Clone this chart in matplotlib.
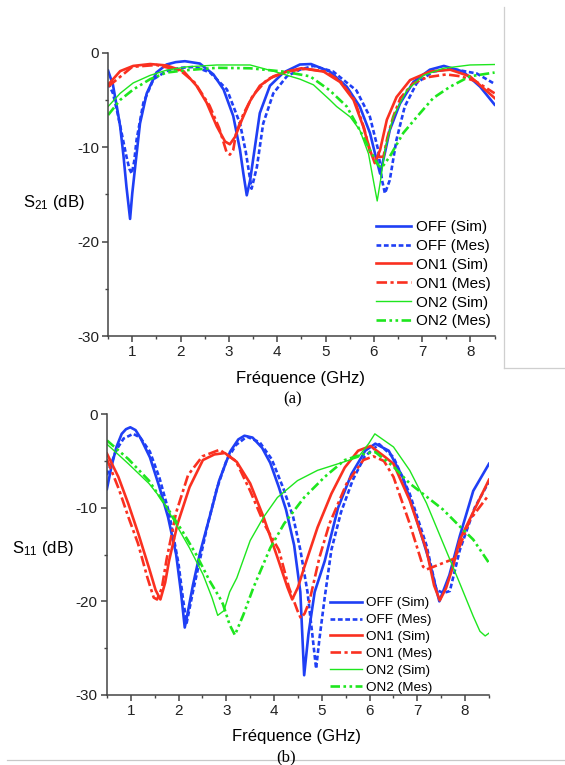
import matplotlib.pyplot as plt
from matplotlib.lines import Line2D
from matplotlib.ticker import MultipleLocator

BLUE = "#1f3ff5"
RED = "#fa3020"
GREEN = "#1ee61e"
AXIS_GREY = "#444444"

plt.rcParams.update({
    "font.family": ["Liberation Sans", "DejaVu Sans"],
    "mathtext.fontset": "custom",
    "mathtext.rm": "Liberation Sans",
    "mathtext.it": "Liberation Sans",
    "axes.unicode_minus": False,
})

# --- panel (a): S21 (dB) vs frequency (GHz) ---
f21_off_sim = [0.5, 0.6, 0.68, 0.75, 0.82, 0.88, 0.955, 1.0, 1.06, 1.16, 1.3, 1.5, 1.71, 1.9,
               2.09, 2.4, 2.68, 2.89, 3.09, 3.23, 3.3, 3.37, 3.44, 3.51, 3.64, 3.85, 4.13, 4.47,
               4.7, 5.09, 5.44, 5.71, 5.92, 6.04, 6.13, 6.23, 6.33, 6.54, 6.82, 7.16, 7.45, 7.85,
               8.2, 8.5]
s21_off_sim = [-1.9, -3.4, -5.7, -7.8, -11.0, -14.2, -17.6, -14.9, -12.1, -7.5, -4.3, -2.1, -1.25,
               -1.0, -0.9, -1.15, -2.3, -3.9, -6.7, -10.3, -12.8, -15.1, -13.5, -11.0, -6.4, -3.5,
               -2.1, -1.25, -1.2, -2.0, -3.6, -5.7, -8.5, -11.0, -12.8, -10.6, -8.2, -5.4, -3.1,
               -1.8, -1.4, -2.0, -3.6, -5.5]

f21_off_mes = [0.5, 0.6, 0.7, 0.8, 0.88, 0.94, 0.99, 1.04, 1.09, 1.23, 1.44, 1.71, 2.0, 2.3, 2.61,
               2.96, 3.23, 3.35, 3.47, 3.58, 3.71, 3.92, 4.2, 4.47, 4.75, 5.16, 5.64, 5.92, 6.09,
               6.17, 6.23, 6.33, 6.47, 6.64, 6.89, 7.23, 7.6, 8.13, 8.5]
s21_off_mes = [-3.2, -4.3, -6.5, -9.0, -11.0, -12.3, -12.8, -11.5, -9.2, -5.3, -2.8, -1.95, -1.6,
               -1.5, -2.1, -3.9, -7.5, -10.5, -14.4, -12.1, -7.5, -4.3, -2.5, -1.8, -1.4, -2.0,
               -4.0, -6.8, -10.3, -13.5, -14.9, -13.5, -9.2, -5.7, -3.2, -2.0, -1.7, -2.2, -3.3]

f21_on1_sim = [0.5, 0.75, 1.02, 1.37, 1.71, 2.06, 2.33, 2.54, 2.75, 2.92, 3.02, 3.13, 3.27, 3.44,
               3.64, 3.92, 4.2, 4.5, 4.96, 5.3, 5.58, 5.78, 5.92, 6.02, 6.13, 6.27, 6.47, 6.75,
               7.16, 7.58, 7.99, 8.5]
s21_on1_sim = [-3.4, -1.95, -1.4, -1.2, -1.35, -1.95, -3.5, -5.3, -7.8, -9.4, -9.7, -8.9, -7.1,
               -5.1, -3.5, -2.5, -2.0, -1.65, -2.0, -3.1, -5.0, -7.8, -10.3, -11.7, -10.3, -7.1,
               -4.7, -2.9, -2.0, -1.8, -2.5, -4.8]

f21_on1_mes = [0.5, 1.0, 1.5, 2.0, 2.3, 2.6, 2.8, 2.95, 3.02, 3.09, 3.15, 3.3, 3.5, 3.8, 4.2, 4.6,
               5.0, 5.3, 5.6, 5.8, 5.92, 6.0, 6.2, 6.28, 6.4, 6.55, 6.8, 7.1, 7.5, 7.8, 8.1, 8.5]
s21_on1_mes = [-3.6, -1.5, -1.3, -1.9, -3.2, -5.6, -8.0, -10.5, -10.8, -10.3, -8.5, -6.5, -4.5,
               -2.8, -2.0, -1.7, -2.0, -3.0, -5.0, -8.0, -10.5, -11.1, -11.0, -9.0, -6.8, -4.8,
               -3.3, -2.6, -2.3, -2.5, -3.0, -4.3]

f21_on2_sim = [0.5, 0.75, 1.02, 1.37, 1.71, 2.13, 2.75, 3.44, 3.95, 4.47, 4.75, 5.09, 5.23, 5.51,
               5.71, 5.89, 5.99, 6.07, 6.14, 6.23, 6.4, 6.68, 7.03, 7.44, 7.99, 8.5]
s21_on2_sim = [-5.7, -4.3, -3.2, -2.4, -1.85, -1.5, -1.3, -1.3, -2.0, -2.8, -3.4, -5.0, -5.7,
               -6.8, -8.2, -10.7, -13.5, -15.7, -13.5, -10.3, -6.8, -4.0, -2.4, -1.65, -1.3, -1.25]

f21_on2_mes = [0.5, 0.75, 1.02, 1.37, 1.71, 2.13, 2.75, 3.44, 4.13, 4.68, 5.09, 5.44, 5.71, 5.92,
               6.09, 6.16, 6.33, 6.61, 6.89, 7.23, 7.58, 7.99, 8.5]
s21_on2_mes = [-6.6, -5.0, -3.9, -2.8, -2.1, -1.85, -1.6, -1.65, -2.0, -2.5, -4.0, -5.7, -8.2,
               -10.3, -11.9, -12.2, -11.0, -8.5, -6.8, -4.8, -3.6, -2.5, -2.1]

# --- panel (b): S11 (dB) vs frequency (GHz) ---
f11_off_sim = [0.5, 0.6, 0.7, 0.81, 0.9, 0.99, 1.1, 1.2, 1.4, 1.6, 1.78, 1.95, 2.05, 2.13, 2.2,
               2.3, 2.45, 2.65, 2.85, 3.08, 3.25, 3.38, 3.55, 3.75, 3.92, 4.1, 4.25, 4.42, 4.55,
               4.63, 4.72, 4.85, 5.06, 5.34, 5.62, 5.91, 6.12, 6.4, 6.69, 6.97, 7.25, 7.46, 7.67,
               7.89, 8.17, 8.5]
s11_off_sim = [-8.0, -5.5, -3.5, -2.1, -1.6, -1.4, -1.7, -2.5, -4.6, -7.8, -11.0, -15.0, -19.0,
               -22.8, -21.0, -18.3, -14.8, -11.0, -7.1, -4.0, -2.7, -2.3, -2.5, -3.6, -5.2, -7.8,
               -10.2, -14.0, -19.0, -27.9, -23.5, -19.0, -15.7, -10.0, -6.4, -3.9, -3.15, -3.9,
               -6.7, -11.0, -15.7, -20.0, -17.2, -13.0, -8.2, -5.3]

f11_off_mes = [0.5, 0.7, 0.85, 1.05, 1.2, 1.4, 1.6, 1.8, 2.0, 2.1, 2.17, 2.3, 2.45, 2.6, 2.8, 3.0,
               3.2, 3.43, 3.7, 3.95, 4.2, 4.4, 4.55, 4.7, 4.8, 4.88, 4.95, 5.06, 5.2, 5.4, 5.65,
               5.9, 6.2, 6.5, 6.84, 7.19, 7.4, 7.55, 7.68, 7.89, 8.2, 8.5]
s11_off_mes = [-6.5, -3.8, -2.6, -2.1, -2.5, -4.0, -6.8, -10.5, -16.0, -20.0, -22.3, -19.0, -15.5,
               -12.0, -8.0, -5.0, -3.3, -2.4, -3.0, -4.8, -8.0, -11.0, -14.5, -19.0, -23.5, -27.2,
               -24.0, -19.6, -14.5, -10.5, -7.0, -4.5, -3.2, -4.6, -8.5, -14.0, -18.8, -19.1,
               -18.9, -14.5, -10.0, -7.2]

f11_on1_sim = [0.5, 0.74, 0.95, 1.16, 1.38, 1.52, 1.62, 1.72, 1.8, 1.98, 2.23, 2.51, 2.75, 2.97,
               3.22, 3.5, 3.78, 4.07, 4.28, 4.38, 4.5, 4.63, 4.91, 5.2, 5.48, 5.76, 6.02, 6.33,
               6.5, 6.84, 7.19, 7.35, 7.47, 7.6, 7.74, 7.89, 8.5]
s11_on1_sim = [-4.2, -6.7, -9.6, -12.8, -16.4, -18.8, -19.8, -18.0, -15.7, -11.7, -7.8, -4.9, -4.3,
               -4.15, -5.1, -7.4, -11.0, -15.3, -18.5, -19.8, -18.5, -16.4, -12.1, -8.5, -5.7,
               -3.9, -3.4, -4.6, -5.3, -9.2, -14.5, -18.3, -19.9, -18.6, -16.4, -13.4, -7.0]

f11_on1_mes = [0.5, 0.75, 0.95, 1.15, 1.35, 1.48, 1.55, 1.65, 1.75, 1.95, 2.2, 2.5, 2.86, 3.2, 3.5,
               3.8, 4.1, 4.31, 4.49, 4.56, 4.64, 4.74, 4.95, 5.16, 5.52, 5.87, 6.08, 6.3, 6.5,
               6.84, 7.12, 7.19, 7.79, 8.1, 8.5]
s11_on1_mes = [-4.8, -8.0, -11.0, -13.8, -17.5, -19.6, -19.8, -18.6, -15.5, -10.5, -6.5, -4.5,
               -3.8, -5.0, -8.2, -11.8, -14.5, -18.5, -21.0, -21.8, -21.3, -20.0, -15.3, -11.7,
               -7.4, -4.9, -4.5, -5.0, -6.7, -11.7, -16.3, -16.6, -15.4, -11.3, -8.6]

f11_on2_sim = [0.5, 0.95, 1.38, 1.66, 1.94, 2.23, 2.51, 2.7, 2.82, 2.95, 3.07, 3.22, 3.5, 3.78,
               4.07, 4.49, 4.91, 5.34, 5.76, 5.98, 6.11, 6.5, 6.84, 7.19, 7.54, 7.89, 8.17, 8.31,
               8.42, 8.5]
s11_on2_sim = [-3.2, -5.3, -7.4, -9.2, -11.7, -14.3, -17.1, -19.6, -21.5, -21.0, -19.0, -17.5,
               -13.5, -11.0, -8.9, -7.1, -6.0, -5.3, -4.6, -3.15, -2.1, -3.5, -6.0, -9.5, -13.8,
               -18.1, -21.6, -23.2, -23.7, -23.4]

f11_on2_mes = [0.5, 0.95, 1.38, 1.8, 2.08, 2.37, 2.65, 2.86, 2.93, 3.07, 3.18, 3.36, 3.57, 3.92,
               4.21, 4.63, 5.06, 5.48, 5.91, 6.12, 6.5, 6.84, 7.19, 7.54, 7.89, 8.17, 8.5]
s11_on2_mes = [-2.8, -4.8, -7.1, -10.3, -12.5, -15.0, -17.8, -19.6, -20.3, -22.5, -23.6, -21.4,
               -18.5, -14.3, -11.7, -8.9, -6.7, -4.9, -4.2, -4.05, -5.6, -7.4, -8.8, -10.2, -12.0,
               -13.4, -15.9]

labels = ["OFF (Sim)", "OFF (Mes)", "ON1 (Sim)", "ON1 (Mes)", "ON2 (Sim)", "ON2 (Mes)"]

# line style per legend entry (colour, linestyle, width)
styles = [
    (BLUE, "-", 1.9),
    (BLUE, (0, (1.8, 1.0)), 1.9),
    (RED, "-", 1.9),
    (RED, (0, (4.0, 1.3, 1.2, 1.3)), 1.9),
    (GREEN, "-", 1.0),
    (GREEN, (0, (3.6, 1.3, 1.0, 1.3, 1.0, 1.3)), 1.9),
]

series_a = [(f21_off_sim, s21_off_sim), (f21_off_mes, s21_off_mes),
            (f21_on1_sim, s21_on1_sim), (f21_on1_mes, s21_on1_mes),
            (f21_on2_sim, s21_on2_sim), (f21_on2_mes, s21_on2_mes)]
series_b = [(f11_off_sim, s11_off_sim), (f11_off_mes, s11_off_mes),
            (f11_on1_sim, s11_on1_sim), (f11_on1_mes, s11_on1_mes),
            (f11_on2_sim, s11_on2_sim), (f11_on2_mes, s11_on2_mes)]

W, H = 565, 765
fig = plt.figure(figsize=(W / 100, H / 100), dpi=100)
ax_a = fig.add_axes([108.1 / W, 1 - 336.0 / H, (494.6 - 108.1) / W, (336.0 - 52.7) / H])
ax_b = fig.add_axes([106.9 / W, 1 - 694.9 / H, (489.0 - 106.9) / W, (694.9 - 414.2) / H])


def style_axes(ax):
    ax.set_xlim(0.5, 8.5)
    ax.set_ylim(-30, 0)
    ax.xaxis.set_major_locator(MultipleLocator(1))
    ax.xaxis.set_minor_locator(MultipleLocator(0.5))
    ax.yaxis.set_major_locator(MultipleLocator(10))
    ax.yaxis.set_minor_locator(MultipleLocator(5))
    ax.set_xticks([1, 2, 3, 4, 5, 6, 7, 8])
    for side in ("top", "right"):
        ax.spines[side].set_visible(False)
    for side in ("left", "bottom"):
        ax.spines[side].set_color(AXIS_GREY)
        ax.spines[side].set_linewidth(1.1)
    ax.tick_params(which="major", direction="out", length=4.5, width=1.1,
                   color=AXIS_GREY, labelsize=11, pad=2, labelcolor="#222222")
    ax.tick_params(which="minor", direction="out", length=2.5, width=1.0, color=AXIS_GREY)


for ax, series in ((ax_a, series_a), (ax_b, series_b)):
    for (f, v), lab, (col, ls, lw) in zip(series, labels, styles):
        ax.plot(f, v, color=col, linestyle=ls, linewidth=lw, label=lab)
    style_axes(ax)

ax_a.legend(loc="upper left", bbox_to_anchor=(376 / W, 1 - 220 / H),
            bbox_transform=fig.transFigure, frameon=False, fontsize=11,
            borderpad=0, borderaxespad=0, handlelength=2.3, handletextpad=0.35,
            labelspacing=0.32)
ax_b.legend(loc="upper left", bbox_to_anchor=(330 / W, 1 - 597 / H),
            bbox_transform=fig.transFigure, frameon=False, fontsize=9.7,
            borderpad=0, borderaxespad=0, handlelength=2.35, handletextpad=0.3,
            labelspacing=0.33)

# axis labels, written horizontally like the original
fig.text(85 / W, 1 - 203 / H, r"S$_{21}$ (dB)", ha="right", va="center", fontsize=12)
fig.text(74 / W, 1 - 549 / H, r"S$_{11}$ (dB)", ha="right", va="center", fontsize=12)
fig.text(301 / W, 1 - 378 / H, "Fréquence (GHz)", ha="center", va="center", fontsize=12)
fig.text(297 / W, 1 - 737 / H, "Fréquence (GHz)", ha="center", va="center", fontsize=12)
fig.text(293 / W, 1 - 399 / H, "(a)", ha="center", va="center", fontsize=12,
         family="Liberation Serif")
fig.text(286 / W, 1 - 757 / H, "(b)", ha="center", va="center", fontsize=12,
         family="Liberation Serif")

# light page frame lines visible in the source figure
fig.add_artist(Line2D([504.3 / W, 504.3 / W], [1 - 7 / H, 1 - 368 / H],
                      transform=fig.transFigure, color="#cfcfcf", lw=0.9))
fig.add_artist(Line2D([504.3 / W, 1.0], [1 - 368 / H, 1 - 368 / H],
                      transform=fig.transFigure, color="#cfcfcf", lw=0.9))
fig.add_artist(Line2D([7 / W, 1.0], [1 - 760 / H, 1 - 760 / H],
                      transform=fig.transFigure, color="#c8c8c8", lw=0.9))

fig.savefig("out.png", dpi=100)
